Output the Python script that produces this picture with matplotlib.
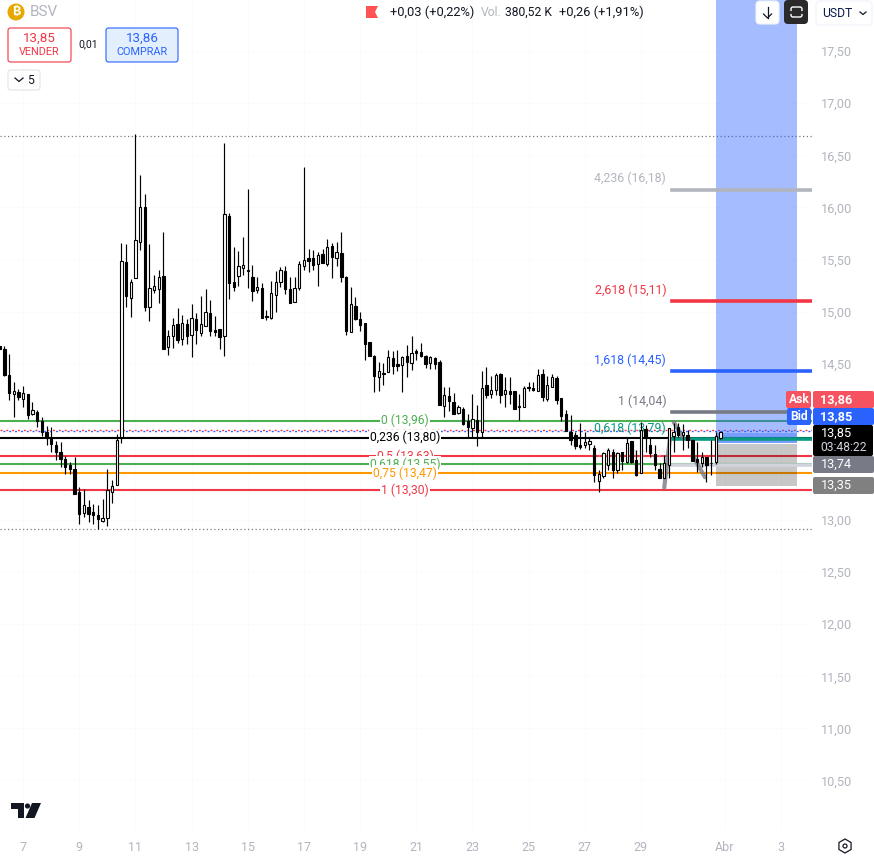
import matplotlib
matplotlib.use('Agg')
import matplotlib.pyplot as plt
import numpy as np
from matplotlib.patches import Circle, FancyBboxPatch, Polygon, Rectangle, RegularPolygon

plt.rcParams['font.family'] = ['Roboto', 'DejaVu Sans']

opens = [14.67, 14.64, 14.39, 14.21, 14.23, 14.16, 14.21, 14.02, 14.04, 13.95, 13.84, 13.79, 13.72, 13.65, 13.59, 13.53,
         13.49, 13.27, 13.07, 13.12, 13.08, 13.05, 12.99, 13.02, 13.27, 13.34, 13.80, 15.48, 15.13, 15.32, 15.67, 16.00,
         15.04, 15.21, 15.22, 15.34, 14.66, 14.77, 14.88, 14.74, 14.88, 14.78, 14.93, 14.79, 14.86, 14.99, 14.82, 14.83,
         14.77, 15.92, 15.28, 15.34, 15.42, 15.40, 15.33, 15.21, 15.23, 14.96, 14.94, 15.16, 15.28, 15.39, 15.22, 15.09,
         15.23, 15.44, 15.51, 15.51, 15.46, 15.55, 15.46, 15.63, 15.51, 15.56, 15.33, 14.80, 15.05, 14.93, 14.89, 14.71,
         14.57, 14.37, 14.40, 14.42, 14.55, 14.50, 14.49, 14.57, 14.51, 14.62, 14.61, 14.57, 14.51, 14.55, 14.52, 14.09,
         14.19, 14.13, 14.03, 14.07, 13.95, 13.88, 13.96, 13.84, 14.30, 14.21, 14.25, 14.40, 14.21, 14.24, 14.24, 14.09,
         14.08, 14.27, 14.27, 14.24, 14.40, 14.16, 14.28, 14.36, 14.17, 14.02, 13.84, 13.82, 13.72, 13.72, 13.73, 13.69,
         13.37, 13.42, 13.53, 13.65, 13.48, 13.65, 13.56, 13.76, 13.58, 13.45, 13.87, 13.72, 13.63, 13.49, 13.40, 13.53,
         13.81, 13.89, 13.82, 13.82, 13.77, 13.59, 13.55, 13.60, 13.55, 13.56, 13.79]
highs = [14.67, 14.67, 14.59, 14.32, 14.26, 14.29, 14.21, 14.13, 14.06, 13.99, 13.90, 13.89, 13.76, 13.75, 13.61, 13.56,
         13.60, 13.32, 13.30, 13.19, 13.15, 13.14, 13.20, 13.49, 13.38, 13.83, 15.66, 15.65, 15.31, 16.70, 16.31, 16.13,
         15.65, 15.35, 15.40, 15.76, 14.82, 14.94, 15.03, 14.97, 14.93, 15.07, 14.99, 15.15, 15.22, 15.11, 14.96, 14.83,
         16.62, 15.95, 15.62, 15.58, 15.72, 16.18, 15.45, 15.33, 15.27, 15.02, 15.29, 15.39, 15.43, 15.44, 15.33, 15.33,
         15.49, 16.39, 15.60, 15.59, 15.57, 15.60, 15.70, 15.66, 15.67, 15.76, 15.34, 15.24, 15.14, 15.00, 14.89, 14.71,
         14.58, 14.52, 14.51, 14.63, 14.62, 14.63, 14.57, 14.68, 14.77, 14.64, 14.70, 14.58, 14.57, 14.56, 14.54, 14.28,
         14.28, 14.22, 14.10, 14.08, 14.02, 14.21, 14.10, 14.43, 14.47, 14.38, 14.41, 14.41, 14.37, 14.37, 14.24, 14.21,
         14.29, 14.32, 14.32, 14.45, 14.45, 14.38, 14.40, 14.38, 14.17, 14.06, 14.01, 13.84, 13.93, 13.84, 13.79, 13.72,
         13.48, 13.65, 13.69, 13.68, 13.65, 13.65, 13.80, 13.76, 13.67, 13.94, 13.91, 13.80, 13.72, 13.55, 13.62, 13.88,
         13.93, 13.93, 13.92, 13.86, 13.77, 13.75, 13.65, 13.60, 13.77, 13.84, 13.85]
lows = [14.64, 14.38, 14.15, 13.99, 14.15, 14.08, 13.97, 14.01, 13.89, 13.81, 13.72, 13.65, 13.58, 13.51, 13.44, 13.44,
        13.25, 12.96, 13.03, 12.98, 12.96, 12.91, 12.98, 12.94, 13.16, 13.34, 13.74, 15.04, 14.95, 15.32, 15.59, 15.01,
        14.91, 15.18, 15.08, 14.64, 14.58, 14.65, 14.70, 14.68, 14.69, 14.56, 14.69, 14.77, 14.86, 14.77, 14.77, 14.64,
        14.57, 15.12, 15.20, 15.25, 15.35, 15.23, 15.10, 15.18, 14.94, 14.92, 14.93, 15.00, 15.24, 15.17, 15.08, 15.09,
        15.21, 15.40, 15.38, 15.40, 15.25, 15.47, 15.44, 15.32, 15.44, 15.28, 14.78, 14.80, 14.92, 14.81, 14.54, 14.57,
        14.23, 14.24, 14.30, 14.42, 14.40, 14.43, 14.23, 14.37, 14.44, 14.54, 14.56, 14.46, 14.45, 14.45, 14.10, 13.99,
        14.05, 14.02, 14.02, 13.91, 13.80, 13.79, 13.71, 13.79, 14.17, 14.17, 14.20, 14.12, 14.08, 14.11, 14.07, 13.96,
        14.08, 14.24, 14.24, 14.24, 14.14, 14.14, 14.28, 14.11, 13.95, 13.85, 13.72, 13.68, 13.68, 13.69, 13.67, 13.36,
        13.27, 13.40, 13.48, 13.40, 13.45, 13.48, 13.55, 13.55, 13.42, 13.45, 13.65, 13.60, 13.48, 13.40, 13.40, 13.40,
        13.65, 13.80, 13.67, 13.69, 13.57, 13.46, 13.51, 13.36, 13.43, 13.54, 13.78]
closes = [14.64, 14.39, 14.22, 14.24, 14.18, 14.22, 14.01, 14.06, 13.95, 13.84, 13.79, 13.73, 13.65, 13.59, 13.51, 13.49,
          13.25, 13.06, 13.14, 13.06, 13.05, 13.01, 13.02, 13.29, 13.33, 13.77, 15.49, 15.15, 15.28, 15.69, 16.00, 15.04,
          15.23, 15.25, 15.33, 14.64, 14.77, 14.87, 14.73, 14.89, 14.77, 14.94, 14.82, 14.88, 15.00, 14.81, 14.80, 14.76,
          15.94, 15.27, 15.24, 15.44, 15.45, 15.39, 15.20, 15.24, 14.94, 14.95, 15.18, 15.28, 15.40, 15.22, 15.08, 15.23,
          15.46, 15.50, 15.49, 15.45, 15.54, 15.47, 15.62, 15.52, 15.57, 15.33, 14.81, 15.07, 14.93, 14.87, 14.69, 14.57,
          14.38, 14.43, 14.41, 14.56, 14.48, 14.48, 14.56, 14.52, 14.60, 14.60, 14.57, 14.50, 14.56, 14.50, 14.10, 14.20,
          14.14, 14.02, 14.08, 13.92, 13.89, 13.97, 13.84, 14.27, 14.20, 14.25, 14.39, 14.20, 14.25, 14.21, 14.07, 14.08,
          14.27, 14.28, 14.25, 14.39, 14.18, 14.30, 14.37, 14.15, 14.00, 13.85, 13.77, 13.71, 13.70, 13.75, 13.76, 13.43,
          13.44, 13.64, 13.67, 13.48, 13.64, 13.57, 13.74, 13.56, 13.43, 13.86, 13.79, 13.64, 13.53, 13.40, 13.55, 13.88,
          13.84, 13.82, 13.84, 13.77, 13.57, 13.56, 13.60, 13.53, 13.55, 13.81, 13.84]

# bars every 4h, tick labels every second day
tick_pos = [5, 17, 29, 41, 53, 65, 77, 89, 101, 113, 125, 137, 155, 167]
tick_labels = ['7', '9', '11', '13', '15', '17', '19', '21', '23', '25', '27', '29', 'Abr', '3']
# 13,50 and 14,00 sit behind the price tags
price_ticks = [10.5, 11.0, 11.5, 12.0, 12.5, 13.0, 14.5, 15.0, 15.5, 16.0, 16.5, 17.0, 17.5]
price_tick_labels = ['10,50', '11,00', '11,50', '12,00', '12,50', '13,00', '14,50', '15,00',
                     '15,50', '16,00', '16,50', '17,00', '17,50']

fib_low_levels = [13.953, 13.79, 13.614, 13.537, 13.451, 13.288]
fib_low_labels = ['0 (13,96)', '0,236 (13,80)', '0,5 (13,63)', '0,618 (13,55)', '0,75 (13,47)', '1 (13,30)']
fib_low_colors = ['#4caf50', '#000000', '#f23645', '#4caf50', '#ff9800', '#f23645']

fib_high_levels = [13.528, 13.777, 14.037, 14.43, 15.10, 16.17]
fib_high_labels = ['0,236 (13,54)', '0,618 (13,79)', '1 (14,04)', '1,618 (14,45)', '2,618 (15,11)', '4,236 (16,18)']
fib_high_colors = ['#d1d4dc', '#089981', '#787b86', '#2962ff', '#f23645', '#b2b5be']

pattern_i = [142, 143.2, np.nan, 144, 146, np.nan, 148.2, 150.7]
pattern_p = [13.31, 13.78, np.nan, 13.94, 13.79, np.nan, 13.61, 13.41]

W, H = 874, 857
fig = plt.figure(figsize=(W / 100, H / 100), dpi=100, facecolor='white')
ax = fig.add_axes([0, 27 / H, 812 / W, 830 / H])
ax.set_xlim(0.064, 173.57)
ax.set_ylim(13 - 337 * 0.009597 + 27 * 0.009597, 13 + 520 * 0.009597)
for s in ax.spines.values():
    s.set_visible(False)
ax.yaxis.tick_right()
ax.set_yticks(price_ticks)
ax.set_yticklabels(price_tick_labels, fontsize=9.2, color='#b2b5be')
ax.set_xticks(tick_pos)
ax.set_xticklabels(tick_labels, fontsize=9, color='#b2b5be')
ax.tick_params(axis='both', length=0)
ax.tick_params(axis='y', pad=6.5)
ax.tick_params(axis='x', pad=8)
ax.grid(color='#fbfbfc', linewidth=0.7)
ax.set_axisbelow(True)

# session high / low and bid / ask lines
ax.axhline(16.69, color='#787b86', lw=0.9, ls=(0, (1, 2)), zorder=1)
ax.axhline(12.91, color='#787b86', lw=0.9, ls=(0, (1, 2)), zorder=1)
ax.axhline(13.86, color='#f23645', lw=1, ls=(0, (1.4, 2.8)), zorder=2)
ax.axhline(13.85, color='#2962ff', lw=1, ls=(2.1, (1.4, 2.8)), zorder=2)

# first fib, full width
for lvl, txt, col in zip(fib_low_levels, fib_low_labels, fib_low_colors):
    ax.axhline(lvl, color=col, lw=1.5, zorder=2)
    ax.text(86.6, lvl, txt, color=col, fontsize=8.7, ha='center', va='center', zorder=2.5,
            bbox=dict(fc='white', ec='none', pad=0.6))

# long position tool
box_left, box_right = 153, 170.4
ax.add_patch(Rectangle((box_left, 13.735), box_right - box_left, 5, color='#2962ff', alpha=0.42, lw=0, zorder=3))
ax.add_patch(Rectangle((box_left, 13.735), box_right - box_left, 0.10, color='#2962ff', alpha=0.35, lw=0, zorder=3))
ax.add_patch(Rectangle((box_left, 13.33), box_right - box_left, 0.40, color='#000000', alpha=0.22, lw=0, zorder=3))

# second fib, starts near the last bars
for lvl, txt, col in zip(fib_high_levels, fib_high_labels, fib_high_colors):
    ax.plot([143.65, 173.57], [lvl, lvl], color=col, lw=2.6, zorder=4)
    ax.annotate(txt, xy=(142.4, lvl), xytext=(0, 8), textcoords='offset points', color=col,
                fontsize=8.9, ha='right', va='center', zorder=4, alpha=0.35 if lvl < 13.6 else 1)

ax.plot(pattern_i, pattern_p, color='#787b86', lw=3, alpha=0.8, zorder=4.5, solid_capstyle='round')

# candles
x = np.arange(len(opens))
o = np.array(opens)
c = np.array(closes)
ax.vlines(x, lows, highs, color='black', lw=0.85, zorder=5)
down = c < o
ax.bar(x, np.abs(c - o), bottom=np.minimum(o, c), width=0.5, color=np.where(down, 'black', 'white').tolist(),
       edgecolor='black', linewidth=0.8, zorder=6)

# screen furniture in pixel coordinates
ui = fig.add_axes([0, 0, 1, 1], zorder=10)
ui.set_xlim(0, W)
ui.set_ylim(H, 0)
ui.axis('off')
ui.patch.set_alpha(0)


def box(x0, y0, x1, y1, fc, ec='none', r=2.5, lw=0.8):
    ui.add_patch(FancyBboxPatch((x0 + r, y0 + r), x1 - x0 - 2 * r, y1 - y0 - 2 * r,
                                boxstyle='round,pad={},rounding_size={}'.format(r, r), fc=fc, ec=ec, lw=lw))


def label(px, py, txt, col='#131722', size=8.7, ha='center', **kw):
    ui.text(px, py, txt, color=col, fontsize=size, ha=ha, va='center', **kw)


ui.add_patch(Circle((16, 12), 8.5, fc='#e6a800', ec='none'))
label(16, 12, '₿', 'white', 9, weight='bold', family=['Inter', 'Noto Sans', 'Open Sans', 'Lato', 'Liberation Sans', 'DejaVu Sans'])
label(30, 12, 'BSV', '#b2b5be', 11, ha='left')

box(8, 28, 71, 62, 'white', '#f23645')
label(39.5, 38, '13,85', '#f23645', 9.6)
label(39.5, 52, 'VENDER', '#f23645', 7.8)
label(88, 44, '0,01', '#131722', 7.6)
box(106, 28, 178, 62, '#e3effd', '#2962ff')
label(142, 38, '13,86', '#2962ff', 9.6)
label(142, 52, 'COMPRAR', '#2962ff', 7.8)
box(8, 70, 40, 90, 'white', '#e0e3eb')
ui.plot([15, 19, 23], [78, 81.5, 78], color='#131722', lw=0.9)
label(31, 80, '5', '#131722', 8.7)

ui.add_patch(Polygon([(366, 6), (378, 6), (375, 12), (378, 18), (366, 18)], fc='#ff5252', ec='none'))
label(390, 12.5, '+0,03 (+0,22%)', size=9.3, ha='left')
label(481, 12.5, 'Vol.', '#b2b5be', 8.7, ha='left')
label(505, 12.5, '380,52 K', size=8.7, ha='left')
label(559, 12.5, '+0,26 (+1,91%)', size=9.3, ha='left')

box(756, 1, 779, 24, 'white', '#f0f3fa', r=4)
ui.plot([767.5, 767.5], [7, 18], color='#131722', lw=0.9)
ui.plot([763.5, 767.5, 771.5], [14, 18, 14], color='#131722', lw=0.9)
box(784, 0, 808, 24, '#2a2a2a', r=4)
box(791, 7, 802, 17, 'none', 'white', r=2, lw=1)
ui.plot([789, 804], [12, 12], color='#2a2a2a', lw=2)
box(816, 1, 872, 25, 'white', '#f0f3fa', r=4)
label(822, 13, 'USDT', '#0c1a4a', 8.7, ha='left')
ui.plot([860, 863, 866], [12, 14.5, 12], color='#131722', lw=0.9)

# price tags
box(786, 391, 811, 408, '#f7525f', r=2)
label(799, 399.5, 'Ask', 'white', 8.7, weight='bold')
box(813, 391, 874, 408, '#f7525f', r=2)
label(836.5, 399.5, '13,86', 'white', 9.2, weight='bold')
box(787, 408, 811, 425, '#2962ff', r=2)
label(799, 416.5, 'Bid', 'white', 8.7, weight='bold')
box(813, 408, 874, 425, '#2962ff', r=2)
label(836.5, 416.5, '13,85', 'white', 9.2, weight='bold')
box(813, 425, 873, 456, '#000000', r=2)
label(836.5, 433, '13,85', 'white', 9.2)
label(844, 447, '03:48:22', '#d1d4dc', 8.7)
box(813, 456, 874, 473, '#787b86', r=2)
label(836.5, 464.5, '13,74', 'white', 9.2)
box(813, 477, 874, 494, '#808080', r=2)
label(836.5, 485.5, '13,35', 'white', 9.2)

# logo and settings button
ui.add_patch(Polygon([(11, 803), (24, 803), (24, 818), (18, 818), (18, 808.5), (11, 808.5)], fc='#131722', ec='none'))
ui.add_patch(Circle((27.5, 806), 2.6, fc='#131722', ec='none'))
ui.add_patch(Polygon([(32, 803), (41, 803), (34.5, 818), (25.5, 818)], fc='#131722', ec='none'))
ui.add_patch(RegularPolygon((845, 846), 6, radius=7, fc='white', ec='#131722', lw=0.9))
ui.add_patch(Circle((845, 846), 2, fc='white', ec='#131722', lw=0.9))

fig.savefig('out.png', dpi=100)
